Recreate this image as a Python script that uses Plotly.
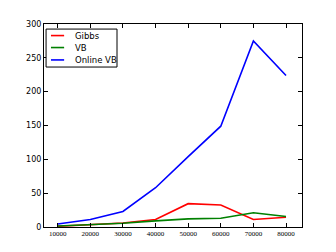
import plotly.graph_objects as go

x_vals = [10000, 20000, 30000, 40000, 50000, 60000, 70000, 80000]
gibbs = [1, 3, 6, 11, 34.5, 32.5, 11, 14.5]
vb = [1.5, 3.5, 5.5, 9, 12, 13, 21, 15.5]
online_vb = [4.5, 11, 23, 58, 104, 149, 275, 224]
x_ticks = [10000, 20000, 30000, 40000, 50000, 60000, 70000, 80000]
y_ticks = [0, 50, 100, 150, 200, 250, 300]

series = [("Gibbs", gibbs, "#ff0000"), ("VB", vb, "#008000"), ("Online VB", online_vb, "#0000ff")]

fig = go.Figure()
for name, vals, col in series:
    fig.add_trace(go.Scatter(x=x_vals, y=vals, mode="lines", name=name,
                             line=dict(color=col, width=1.6)))

# manual legend (compact, matplotlib-like)
shapes = [dict(type="rect", xref="paper", yref="paper", x0=0.008, x1=0.283,
               y0=0.788, y1=0.975, line=dict(color="black", width=1),
               fillcolor="white", layer="above")]
annotations = []
leg_y = [0.943, 0.884, 0.823]
for (name, vals, col), yy in zip(series, leg_y):
    shapes.append(dict(type="line", xref="paper", yref="paper", x0=0.027, x1=0.078,
                       y0=yy, y1=yy, line=dict(color=col, width=1.6), layer="above"))
    annotations.append(dict(xref="paper", yref="paper", x=0.112, y=yy, text=name,
                            showarrow=False, xanchor="left", yanchor="middle",
                            font=dict(family="DejaVu Sans", size=8.5, color="black")))

fig.update_layout(
    width=328, height=244, autosize=False,
    margin=dict(l=36, r=34, t=16, b=25),
    paper_bgcolor="white", plot_bgcolor="white",
    showlegend=False,
    shapes=shapes, annotations=annotations,
    xaxis=dict(range=[5800, 84900], tickvals=x_ticks,
               ticktext=[str(v) for v in x_ticks],
               showgrid=False, zeroline=False, showline=True, linecolor="black",
               linewidth=1, mirror="ticks", ticks="inside", ticklen=4,
               tickcolor="black",
               tickfont=dict(family="Liberation Serif", size=7, color="black")),
    yaxis=dict(range=[0, 300], tickvals=y_ticks,
               showgrid=False, zeroline=False, showline=True, linecolor="black",
               linewidth=1, mirror="ticks", ticks="inside", ticklen=4,
               tickcolor="black",
               tickfont=dict(family="DejaVu Sans", size=8, color="black")),
)

fig.write_html("out.html")
